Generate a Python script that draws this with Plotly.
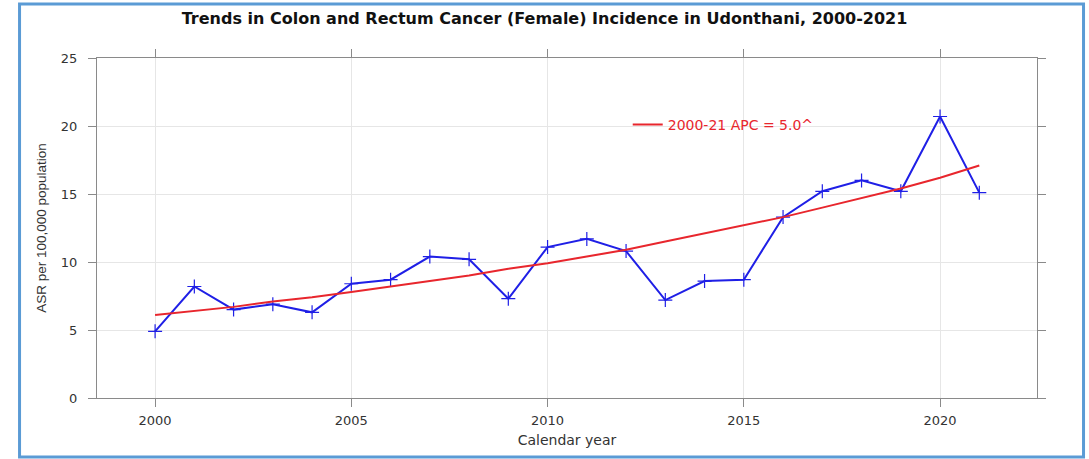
import plotly.graph_objects as go

years = list(range(2000, 2022))
observed_asr = [4.9, 8.2, 6.5, 6.9, 6.3, 8.4, 8.7, 10.4, 10.2, 7.3, 11.1,
                11.7, 10.8, 7.2, 8.6, 8.7, 13.3, 15.2, 16.0, 15.2, 20.7, 15.1]
modeled_asr = [6.1, 6.4, 6.7, 7.1, 7.4, 7.8, 8.2, 8.6, 9.0, 9.5, 9.9,
               10.4, 10.9, 11.5, 12.1, 12.7, 13.3, 14.0, 14.7, 15.4, 16.2, 17.1]
trend_label = "2000-21 APC = 5.0^"
title_text = "Trends in Colon and Rectum Cancer (Female) Incidence in Udonthani, 2000-2021"
x_ticks = [2000, 2005, 2010, 2015, 2020]
y_ticks = [0, 5, 10, 15, 20, 25]

fig = go.Figure()
fig.add_trace(go.Scatter(
    x=years, y=observed_asr, mode="lines+markers", showlegend=False,
    line=dict(color="#1f1fe6", width=2),
    marker=dict(symbol="cross-thin", size=10, color="#1f1fe6",
                line=dict(color="#1f1fe6", width=1.2)),
))
fig.add_trace(go.Scatter(
    x=years, y=modeled_asr, mode="lines", name=trend_label,
    line=dict(color="#e8262d", width=2),
))

axis_common = dict(
    showline=True, linecolor="#8a8a8a", linewidth=1, mirror="ticks",
    ticks="outside", ticklen=8, tickcolor="#8a8a8a",
    showgrid=True, gridcolor="#e6e6e6", gridwidth=1, zeroline=False,
    tickfont=dict(family="DejaVu Sans", size=13, color="#333333"),
)

fig.update_layout(
    width=1089, height=459,
    margin=dict(l=97, r=52, t=58, b=61),
    paper_bgcolor="white", plot_bgcolor="white",
    title=dict(text="<b>" + title_text + "</b>", x=0.5, xanchor="center",
               y=0.959, yanchor="middle",
               font=dict(family="DejaVu Sans", size=16, color="#111111")),
    xaxis=dict(range=[1998.52, 2022.47], tickvals=x_ticks, ticklabelstandoff=2,
               title=dict(text="Calendar year", standoff=8,
                          font=dict(family="DejaVu Sans", size=14, color="#333333")),
               **axis_common),
    yaxis=dict(range=[0, 25], tickvals=y_ticks, ticklabelstandoff=8,
               title=dict(text="ASR per 100,000 population", standoff=11,
                          font=dict(family="Liberation Sans", size=13.5, color="#333333")),
               **axis_common),
    legend=dict(x=0.5646, y=0.803, xanchor="left", yanchor="middle",
                bgcolor="rgba(0,0,0,0)",
                font=dict(family="DejaVu Sans", size=14, color="#e8262d")),
    shapes=[dict(type="rect", xref="paper", yref="paper",
                 x0=-0.0824, x1=1.0495, y0=-0.1735, y1=1.1588,
                 line=dict(color="#5b9bd5", width=3), layer="above")],
)

fig.write_html("out.html", config={"displayModeBar": False},
               post_script="document.body.style.margin='0px';")
